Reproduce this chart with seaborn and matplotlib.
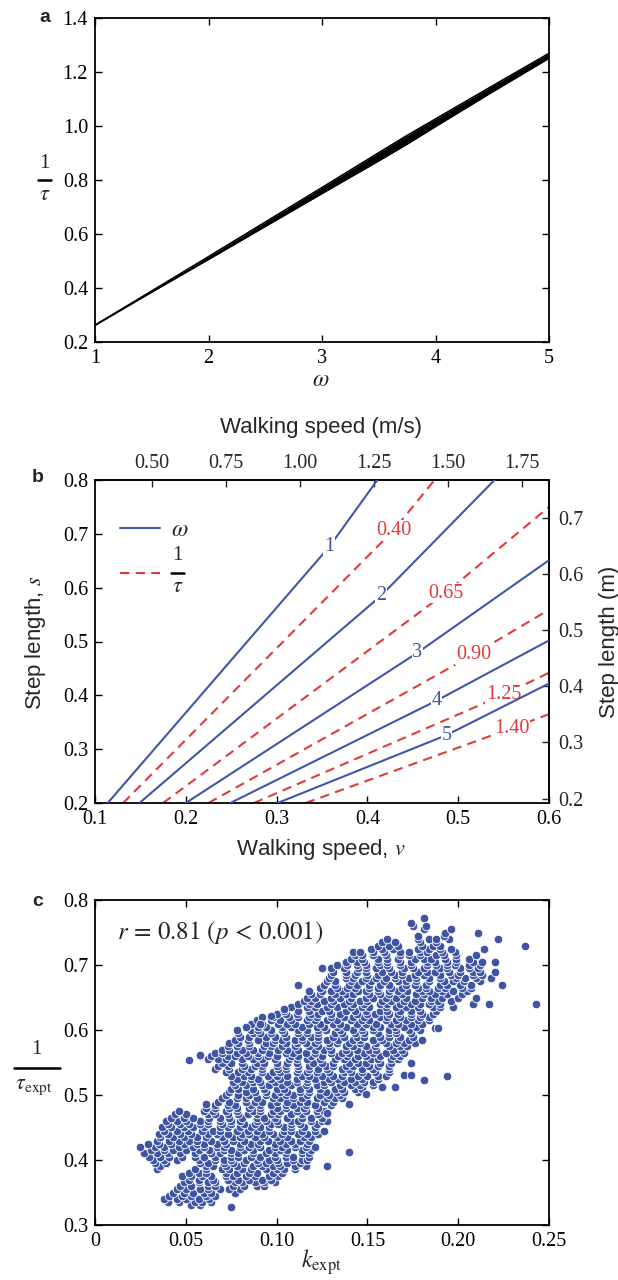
import matplotlib
matplotlib.use("Agg")
import numpy as np
import pandas as pd
import matplotlib.pyplot as plt
from matplotlib.lines import Line2D
import seaborn as sns

# ---------------- panel a data ----------------
omega_a = [1.0, 1.5, 2.0, 2.5, 3.0, 3.5, 3.75, 4.0, 4.5, 5.0]
inv_tau_lower = [0.262, 0.385, 0.506, 0.628, 0.750, 0.871, 0.933, 0.998, 1.126, 1.251]
inv_tau_upper = [0.262, 0.389, 0.516, 0.644, 0.772, 0.901, 0.965, 1.026, 1.148, 1.269]

# ---------------- panel b data ----------------
omega_levels = ["1", "2", "3", "4", "5"]
omega_v = [[0.114, 0.358, 0.411], [0.149, 0.415, 0.540], [0.200, 0.455, 0.600],
           [0.249, 0.476, 0.600], [0.301, 0.487, 0.600]]
omega_s = [[0.200, 0.676, 0.800], [0.200, 0.585, 0.800], [0.200, 0.479, 0.651],
           [0.200, 0.390, 0.502], [0.200, 0.326, 0.422]]
invtau_levels = ["0.40", "0.65", "0.90", "1.25", "1.40"]
invtau_v = [[0.131, 0.429, 0.474], [0.175, 0.486, 0.600], [0.225, 0.517, 0.600],
            [0.275, 0.550, 0.600], [0.332, 0.559, 0.600]]
invtau_s = [[0.200, 0.707, 0.800], [0.200, 0.590, 0.750], [0.200, 0.476, 0.559],
            [0.200, 0.401, 0.442], [0.200, 0.339, 0.365]]
speed_factor = 3.07   # m/s per unit walking speed
leg_length = 0.96     # m per unit step length
top_ticks = [0.50, 0.75, 1.00, 1.25, 1.50, 1.75]
right_ticks = [0.2, 0.3, 0.4, 0.5, 0.6, 0.7]

# ---------------- panel c data (1/tau, [k ...]) in thousandths ----------------
scatter_rows_low = [
    (331, [53, 58]),
    (336, [40, 46, 55, 59, 64]),
    (340, [38, 45, 50, 57, 63]),
    (345, [41, 48, 53, 61, 66]),
    (350, [43, 49, 54, 60, 64, 77]),
    (355, [45, 50, 58, 62, 69, 74, 80]),
    (360, [47, 53, 62, 66, 76, 82, 89, 93]),
    (366, [49, 57, 62, 66, 77, 81, 88, 93, 99]),
    (370, [52, 57, 65, 73, 79, 85, 92, 97]),
    (375, [48, 53, 59, 64, 72, 76, 83, 88, 96, 101]),
    (380, [52, 57, 61, 72, 78, 85, 89, 98, 103]),
    (386, [34, 55, 61, 70, 74, 81, 86, 94, 100, 104, 110]),
    (391, [36, 61, 65, 72, 78, 87, 92, 98, 102, 110, 116, 128]),
    (395, [33, 39, 58, 62, 71, 76, 82, 90, 94, 101, 106, 113]),
    (400, [32, 38, 45, 57, 66, 71, 75, 83, 89, 96, 100, 109, 114, 117]),
    (405, [30, 36, 41, 48, 55, 60, 66, 75, 79, 86, 91, 99, 105, 109, 118]),
    (411, [27, 34, 40, 47, 55, 64, 69, 75, 79, 87, 94, 99, 105, 114, 118]),
    (415, [31, 38, 43, 50, 57, 63, 71, 75, 82, 87, 96, 102, 106, 114, 119]),
    (420, [25, 33, 38, 46, 54, 60, 67, 71, 80, 85, 91, 99, 103, 110, 116, 121]),
    (425, [29, 35, 42, 49, 56, 60, 67, 72, 80, 86, 90, 99, 105, 110, 117]),
    (430, [34, 41, 46, 52, 56, 64, 71, 76, 82, 91, 95, 102, 108, 113, 118]),
    (436, [36, 43, 49, 56, 61, 70, 76, 80, 88, 93, 100, 106, 115, 119]),
    (440, [35, 40, 47, 53, 62, 67, 73, 81, 85, 92, 98, 103, 112, 117, 123]),
    (445, [38, 45, 51, 59, 65, 69, 78, 84, 89, 96, 104, 108, 114, 121, 126]),
    (451, [37, 42, 49, 54, 60, 69, 73, 80, 86, 91, 96, 104, 108, 115, 121]),
    (455, [40, 47, 52, 58, 62, 70, 75, 82, 88, 97, 101, 108, 113, 122]),
    (460, [39, 45, 50, 58, 62, 69, 75, 80, 89, 94, 100, 108, 112, 119, 125, 128]),
    (465, [42, 49, 54, 63, 69, 74, 81, 89, 93, 99, 106, 114, 119, 125]),
    (471, [44, 50, 62, 66, 73, 79, 84, 89, 97, 101, 108, 114, 123, 128]),
    (475, [46, 60, 65, 72, 78, 87, 91, 98, 102, 111, 116, 122, 126]),
]
scatter_rows_mid = [
    (480, [61, 66, 74, 78, 85, 91, 100, 105, 111, 115, 123]),
    (485, [66, 73, 77, 86, 91, 97, 105, 109, 116, 121, 130]),
    (490, [68, 74, 83, 88, 92, 100, 106, 113, 117, 126, 131]),
    (496, [70, 78, 83, 89, 98, 102, 109, 114, 122, 128, 132, 136]),
    (500, [72, 79, 85, 94, 99, 105, 109, 117, 124, 129, 135]),
    (505, [74, 83, 88, 94, 102, 106, 113, 118, 127, 133, 137, 145]),
    (510, [75, 79, 87, 93, 100, 104, 113, 118, 124, 132, 136, 143, 147]),
    (516, [77, 83, 92, 96, 103, 108, 116, 122, 126, 135, 141, 146, 153]),
    (520, [76, 81, 87, 91, 99, 106, 111, 117, 126, 130, 137, 143, 148, 153]),
    (525, [78, 86, 90, 97, 102, 111, 117, 121, 129, 134, 141, 147, 156]),
    (530, [75, 82, 86, 95, 100, 106, 114, 118, 125, 131, 136, 145, 150, 156, 160]),
    (536, [72, 79, 84, 92, 98, 102, 111, 117, 122, 129, 137, 141, 147, 154, 162]),
    (540, [66, 74, 81, 86, 92, 101, 105, 112, 118, 123, 128, 136, 140, 147, 153, 162]),
    (545, [68, 73, 82, 88, 92, 100, 105, 112, 118, 127, 131, 138, 142, 151, 156, 162]),
    (550, [70, 75, 81, 89, 93, 100, 106, 111, 120, 125, 131, 140, 145, 149, 157, 163]),
    (556, [62, 68, 72, 81, 87, 92, 99, 107, 111, 117, 124, 132, 137, 143, 152, 156, 163, 167]),
    (560, [58, 64, 73, 77, 84, 90, 95, 100, 108, 112, 119, 125, 134, 139, 145, 149, 157, 164, 168]),
    (565, [66, 70, 78, 83, 90, 96, 105, 109, 116, 121, 130, 136, 140, 148, 153, 160, 166, 170]),
    (570, [70, 74, 81, 87, 92, 101, 106, 112, 121, 126, 130, 138, 144, 151, 155, 164, 169]),
    (576, [73, 78, 85, 93, 97, 103, 110, 118, 123, 129, 138, 142, 149, 154, 162, 168, 172]),
    (580, [74, 79, 85, 94, 98, 105, 111, 116, 121, 129, 133, 140, 146, 155, 160, 166, 170, 176]),
    (585, [77, 84, 90, 99, 103, 110, 114, 123, 128, 134, 142, 146, 153, 158, 167, 173]),
    (590, [80, 85, 94, 99, 105, 114, 119, 123, 131, 137, 144, 148, 157, 162, 168, 175]),
    (596, [79, 87, 91, 97, 104, 112, 117, 123, 132, 136, 143, 148, 156, 162, 166, 174]),
    (600, [78, 86, 90, 97, 103, 112, 117, 123, 127, 135, 142, 147, 153, 162, 166, 173, 179]),
    (605, [83, 90, 94, 103, 108, 114, 122, 126, 133, 138, 147, 153, 157, 165, 170, 177]),
    (610, [86, 92, 101, 106, 110, 118, 124, 131, 135, 144, 149, 155, 163, 167, 174, 180]),
    (616, [89, 97, 102, 108, 117, 121, 128, 133, 141, 147, 151, 160, 166, 171, 178, 184]),
]
scatter_rows_high = [
    (620, [92, 98, 107, 112, 118, 122, 130, 137, 142, 148, 157, 161, 168, 174, 179, 184]),
    (625, [100, 105, 111, 119, 123, 130, 135, 144, 150, 154, 162, 167, 174, 180, 186]),
    (630, [104, 112, 118, 125, 129, 138, 143, 149, 157, 161, 168, 174, 179, 188]),
    (636, [108, 117, 121, 128, 133, 141, 147, 151, 160, 166, 171, 178, 186, 190, 197]),
    (640, [112, 118, 122, 130, 137, 142, 148, 157, 161, 168, 174, 179, 184, 190, 208, 217, 243]),
    (645, [115, 119, 126, 131, 140, 146, 150, 158, 163, 170, 176, 185, 189, 196]),
    (650, [117, 121, 130, 135, 141, 149, 153, 160, 166, 171, 180, 185, 191, 200, 210]),
    (656, [119, 124, 132, 138, 142, 151, 157, 162, 169, 177, 181, 187, 194, 202]),
    (660, [118, 125, 130, 136, 145, 149, 156, 162, 167, 172, 180, 184, 191, 197, 205]),
    (665, [124, 133, 139, 143, 151, 156, 163, 169, 178, 182, 189, 193, 202, 207]),
    (670, [112, 126, 132, 140, 144, 151, 157, 162, 171, 176, 182, 190, 194, 201, 207, 224]),
    (676, [128, 132, 141, 147, 152, 159, 167, 171, 177, 184, 192, 197, 203, 212]),
    (680, [129, 138, 142, 149, 155, 160, 165, 173, 177, 184, 190, 199, 204, 210, 218]),
    (685, [130, 138, 143, 150, 156, 165, 169, 176, 181, 190, 196, 200, 208, 213]),
    (690, [131, 138, 144, 149, 158, 163, 169, 178, 183, 187, 195, 201, 208, 212, 220]),
    (696, [125, 130, 137, 145, 149, 155, 162, 170, 175, 181, 190, 194, 201, 206, 211]),
    (700, [133, 139, 144, 149, 157, 161, 168, 174, 183, 188, 194, 198, 206, 212]),
    (705, [138, 144, 148, 156, 161, 168, 174, 183, 187, 194, 199, 208, 213, 220]),
    (710, [141, 147, 156, 161, 167, 176, 181, 185, 193, 199, 206]),
    (716, [143, 147, 153, 160, 168, 173, 179, 188, 192, 199, 210]),
    (720, [142, 146, 153, 159, 168, 173, 179, 183, 191, 198]),
    (725, [152, 158, 164, 178, 184, 190, 196, 214]),
    (730, [156, 162, 167, 180, 186, 190, 237]),
    (735, [158, 165, 179, 188]),
    (740, [161, 178, 184, 188, 195, 222]),
    (745, [178, 192]),
    (750, [193, 211]),
    (755, [181, 196]),
    (760, [175, 182]),
    (765, [174]),
    (773, [181]),
]
sparse_k = [75, 61, 140, 149, 158, 165, 181, 170, 174, 194, 52, 58, 174, 180, 187,
            189, 140, 128, 104, 97, 91, 83]
sparse_inv_tau = [328, 486, 486, 502, 513, 513, 523, 531, 531, 529, 554, 561, 549, 584,
                  603, 603, 413, 472, 633, 622, 610, 604]

# ---------------- style ----------------
sns.set_theme(style="ticks")
plt.rcParams["font.family"] = ["Liberation Serif", "DejaVu Serif"]
plt.rcParams["mathtext.fontset"] = "stix"
plt.rcParams["axes.unicode_minus"] = False

BLUE = "#3F57A6"
RED = "#E03B3B"
SCAT = "#3E55A4"
SANS = "Liberation Sans"
TICK_FS = 14.5
LAB_FS = 16

W, H = 618, 1280
fig = plt.figure(figsize=(W / 100, H / 100), dpi=100)


def ax_rect(left, top, right, bottom):
    return [left / W, 1 - bottom / H, (right - left) / W, (bottom - top) / H]


def px(x, y):
    return x / W, 1 - y / H


def style_axis(ax, top=True, right=True):
    ax.tick_params(direction="in", length=5, width=1.0, labelsize=TICK_FS,
                   top=top, right=right, pad=5, colors="black")
    for sp in ax.spines.values():
        sp.set_linewidth(1.3)
        sp.set_color("black")


def stacked_fraction(xc, ybar, x0, x1, num_dy, den_dy, den_text, fs, den_x=None):
    fig.text(*px(xc, ybar - num_dy), "1", fontsize=fs, ha="center", va="center")
    fig.text(*px(den_x if den_x is not None else xc, ybar + den_dy), den_text,
             fontsize=fs + 1, ha="center", va="center")
    fig.add_artist(Line2D([x0 / W, x1 / W], [1 - ybar / H, 1 - ybar / H],
                          transform=fig.transFigure, color="black", lw=1.8))


ax_a = fig.add_axes(ax_rect(95, 18, 549, 342))
ax_b = fig.add_axes(ax_rect(95, 480, 549, 803))
ax_c = fig.add_axes(ax_rect(95, 900, 549, 1225))

# ---------------- panel a ----------------
ax_a.fill_between(omega_a, inv_tau_lower, inv_tau_upper, color="black", lw=0)
sns.lineplot(x=omega_a, y=inv_tau_lower, ax=ax_a, color="black", lw=1.2)
sns.lineplot(x=omega_a, y=inv_tau_upper, ax=ax_a, color="black", lw=1.2)
ax_a.set_xlim(1, 5)
ax_a.set_ylim(0.2, 1.4)
ax_a.set_xticks([1, 2, 3, 4, 5])
ax_a.set_yticks([0.2, 0.4, 0.6, 0.8, 1.0, 1.2, 1.4])
ax_a.set_yticklabels(["0.2", "0.4", "0.6", "0.8", "1.0", "1.2", "1.4"])
style_axis(ax_a)
ax_a.set_xlabel("")
ax_a.set_ylabel("")
fig.text(*px(321, 380), r"$\omega$", fontsize=LAB_FS + 1, ha="center", va="center")
stacked_fraction(44.5, 180, 38, 51, 17, 15, r"$\tau$", 15)
fig.text(*px(45, 17), "a", fontsize=14, fontweight="bold", family=SANS,
         ha="center", va="center")

# ---------------- panel b ----------------
for i, lev in enumerate(invtau_levels):
    sns.lineplot(x=invtau_v[i], y=invtau_s[i], ax=ax_b, color=RED, lw=1.5,
                 linestyle=(0, (4.5, 3)), sort=False, zorder=2,
                 label="inv_tau" if i == 0 else None, legend=False)
    ax_b.text(invtau_v[i][1], invtau_s[i][1], lev, color=RED, fontsize=TICK_FS,
              ha="center", va="center", zorder=3,
              bbox=dict(facecolor="white", edgecolor="none", pad=0.6))
for i, lev in enumerate(omega_levels):
    sns.lineplot(x=omega_v[i], y=omega_s[i], ax=ax_b, color=BLUE, lw=1.5,
                 sort=False, zorder=4,
                 label="omega" if i == 0 else None, legend=False)
    ax_b.text(omega_v[i][1], omega_s[i][1], lev, color=BLUE, fontsize=TICK_FS,
              ha="center", va="center", zorder=5,
              bbox=dict(facecolor="white", edgecolor="none", pad=0.6))

ax_b.set_xlim(0.1, 0.6)
ax_b.set_ylim(0.2, 0.8)
ax_b.set_xticks([0.1, 0.2, 0.3, 0.4, 0.5, 0.6])
ax_b.set_xticklabels(["0.1", "0.2", "0.3", "0.4", "0.5", "0.6"])
ax_b.set_yticks([0.2, 0.3, 0.4, 0.5, 0.6, 0.7, 0.8])
ax_b.set_yticklabels(["0.2", "0.3", "0.4", "0.5", "0.6", "0.7", "0.8"])
style_axis(ax_b, top=False, right=False)
ax_b.set_xlabel("")
ax_b.set_ylabel("")

secx = ax_b.secondary_xaxis("top", functions=(lambda v: v * speed_factor,
                                              lambda u: u / speed_factor))
secx.set_xticks(top_ticks)
secx.set_xticklabels([f"{t:.2f}" for t in top_ticks])
secx.tick_params(direction="in", length=5, width=1.0, labelsize=TICK_FS, pad=5)
secy = ax_b.secondary_yaxis("right", functions=(lambda s: s * leg_length,
                                                lambda m: m / leg_length))
secy.set_yticks(right_ticks)
secy.set_yticklabels([f"{t:.1f}" for t in right_ticks])
secy.tick_params(direction="in", length=5, width=1.0, labelsize=TICK_FS, pad=7)
for sa in (secx, secy):
    for sp in sa.spines.values():
        sp.set_linewidth(1.3)

handles, labels = ax_b.get_legend_handles_labels()
h_omega = handles[labels.index("omega")]
h_tau = handles[labels.index("inv_tau")]
leg_fs = 17
leg = ax_b.legend([h_omega, h_tau], [r"$\omega$", " "], loc="upper left",
                  bbox_to_anchor=(25 / 454, 1 - 38 / 323), frameon=False,
                  fontsize=leg_fs, handlelength=1.7, handletextpad=0.45,
                  labelspacing=1.0, borderaxespad=0, borderpad=0)
renderer = fig.canvas.get_renderer()
for _ in range(3):
    fig.canvas.draw()
    lines = leg.get_lines()
    bb0 = lines[0].get_window_extent(renderer)
    bb1 = lines[1].get_window_extent(renderer)
    y0 = H - (bb0.y0 + bb0.y1) / 2
    y1 = H - (bb1.y0 + bb1.y1) / 2
    leg.labelspacing = max(0.0, leg.labelspacing + (52 - (y1 - y0)) / (leg_fs * 100 / 72))
    ax_off = (y0 - 528) / 323
    anchor = leg.get_bbox_to_anchor()
    ax_bb = ax_b.get_window_extent(renderer)
    cur_top = (anchor.y1 - ax_bb.y0) / ax_bb.height
    leg.set_bbox_to_anchor((25 / 454, cur_top + ax_off), transform=ax_b.transAxes)
fig.canvas.draw()
lines = leg.get_lines()
bb1 = lines[1].get_window_extent(renderer)
x_right = bb1.x1
y_red = H - (bb1.y0 + bb1.y1) / 2
stacked_fraction(x_right + 17.5, y_red, x_right + 11, x_right + 24, 18, 14,
                 r"$\tau$", 15)

fig.text(*px(321, 428), "Walking speed (m/s)", fontsize=LAB_FS, family=SANS,
         ha="center", va="center")
fig.text(*px(321, 850), r"Walking speed, $v$", fontsize=LAB_FS, family=SANS,
         ha="center", va="center")
fig.text(*px(36, 642), r"Step length, $s$", fontsize=LAB_FS, family=SANS,
         ha="center", va="center", rotation=90)
fig.text(*px(609, 642), "Step length (m)", fontsize=LAB_FS, family=SANS,
         ha="center", va="center", rotation=90)
fig.text(*px(38, 478), "b", fontsize=14, fontweight="bold", family=SANS,
         ha="center", va="center")

# ---------------- panel c ----------------
k_vals, y_vals = [], []
for group in (scatter_rows_low, scatter_rows_mid, scatter_rows_high):
    for yv, klist in group:
        for kv in klist:
            k_vals.append(kv / 1000)
            y_vals.append(yv / 1000)
for kv, yv in zip(sparse_k, sparse_inv_tau):
    k_vals.append(kv / 1000)
    y_vals.append(yv / 1000)
df_c = pd.DataFrame({"k_expt": k_vals, "inv_tau_expt": y_vals})

sns.scatterplot(data=df_c, x="k_expt", y="inv_tau_expt", ax=ax_c, color=SCAT,
                s=38, edgecolor="white", linewidth=0.6, zorder=3)
ax_c.set_xlim(0, 0.25)
ax_c.set_ylim(0.3, 0.8)
ax_c.set_xticks([0, 0.05, 0.10, 0.15, 0.20, 0.25])
ax_c.set_xticklabels(["0", "0.05", "0.10", "0.15", "0.20", "0.25"])
ax_c.set_yticks([0.3, 0.4, 0.5, 0.6, 0.7, 0.8])
ax_c.set_yticklabels(["0.3", "0.4", "0.5", "0.6", "0.7", "0.8"])
style_axis(ax_c)
ax_c.set_xlabel("")
ax_c.set_ylabel("")
fig.text(*px(117, 933), r"$r\,=\,0.81\ (p\,<\,0.001)$", fontsize=18,
         ha="left", va="center")
fig.text(*px(321, 1262), r"$k_{\mathrm{expt}}$", fontsize=LAB_FS + 1,
         ha="center", va="center")
stacked_fraction(36, 1068, 14, 60, 18, 19, r"$\tau_{\mathrm{expt}}$", 15, den_x=34)
fig.text(*px(38, 902), "c", fontsize=14, fontweight="bold", family=SANS,
         ha="center", va="center")

fig.savefig("out.png", dpi=100)
